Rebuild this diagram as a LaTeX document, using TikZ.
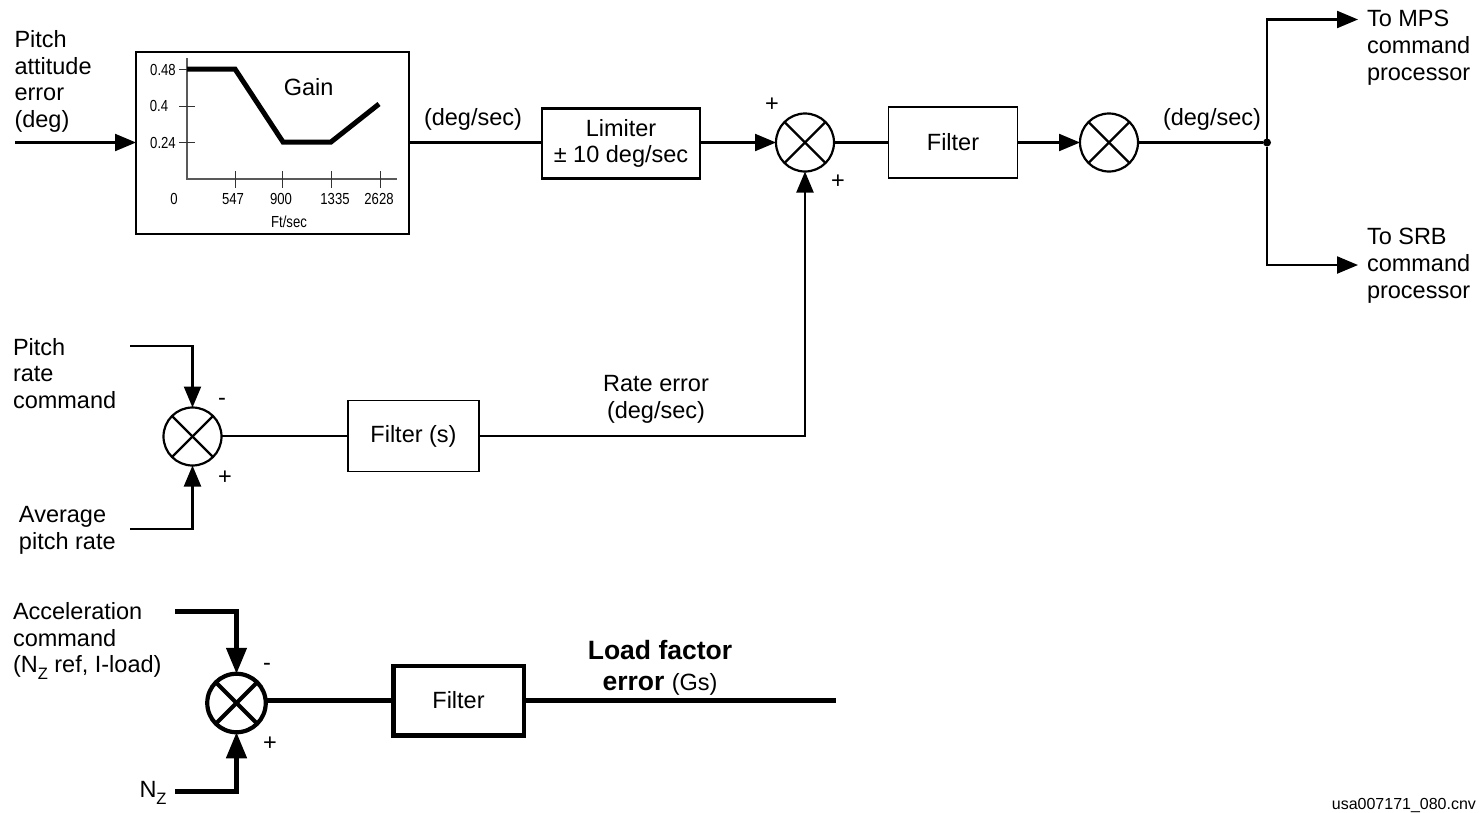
\documentclass[tikz,border=0pt]{standalone}
\usepackage{fontspec}
\usepackage{graphicx}
\setmainfont{Liberation Sans}
\usetikzlibrary{arrows.meta}
\newcommand{\nzlabel}{N\raisebox{-7pt}{\fontsize{16.5}{16.5}\selectfont Z}}
\newcommand{\ticktext}[1]{\scalebox{.82}[1]{#1}}
\tikzset{
    x=1pt,y=-1pt,
    every node/.style={font=\fontsize{23.5}{26.8}\selectfont,inner sep=0pt,outer sep=0pt},
    textblock/.style={anchor=west,align=left},
    midblock/.style={align=center},
    signlabel/.style={font=\fontsize{23.5}{23.5}\selectfont},
    ticklabel/.style={font=\fontsize{16}{16}\selectfont},
    thinline/.style={line width=2.2pt},
    thickline/.style={line width=4.5pt},
    thinarrow/.style={thinline,-{Triangle[length=21pt,width=17pt]}},
    thickarrow/.style={thickline,-{Triangle[length=26pt,width=20pt]}},
    sumnode/.style={circle,draw,line width=#1,
        path picture={
            \draw[line width=#1] (path picture bounding box.north west) -- (path picture bounding box.south east);
            \draw[line width=#1] (path picture bounding box.north east) -- (path picture bounding box.south west);
        }}
}
\begin{document}
\begin{tikzpicture}
        \useasboundingbox (0,0) rectangle (1480,812);
        \node[textblock] (pitcherrlabel) at (14.5,81.5) {Pitch\\attitude\\error\\(deg)};
        \node[draw,line width=1.5pt,minimum width=273pt,minimum height=182pt] (gainbox) at (272.5,143) {};
        \node (gainlabel) at (308.7,87) {Gain};
        \node[draw,midblock,line width=2.5pt,minimum width=158pt,minimum height=70pt] (limiter) at (621,143.5) {Limiter\\± 10 deg/sec};
        \node[sumnode=2.2pt,minimum size=58pt] (sumtop) at (805,142.5) {};
        \node[draw,line width=1.8pt,minimum width=129pt,minimum height=71pt] (filtertop) at (953,142.5) {Filter};
        \node[sumnode=2.2pt,minimum size=58pt] (sumout) at (1109,142.5) {};
        \node[circle,fill=black,minimum size=8pt] (junction) at (1267,142.5) {};
        \node (ratelabel) at (473,119) {(deg/sec)};
        \node (outlabel) at (1212,119) {(deg/sec)};
        \node[signlabel] (plusa) at (772,105) {+};
        \node[signlabel] (plusb) at (838,182) {+};
        \node[textblock] (mpslabel) at (1367,47.5) {To MPS\\command\\processor};
        \node[textblock] (srblabel) at (1367,266) {To SRB\\command\\processor};
        \coordinate (pitchin) at (15,142.5);
        \coordinate (mpsout) at (1358,19.5);
        \coordinate (srbout) at (1358,265);
        \draw[thinarrow] (pitchin) -- (pitchin -| gainbox.west);
        \draw[thinline] (pitchin -| gainbox.east) -- (pitchin -| limiter.west);
        \draw[thinarrow] (pitchin -| limiter.east) -- (sumtop.west);
        \draw[thinline] (sumtop.east) -- (filtertop.west);
        \draw[thinarrow] (filtertop.east) -- (sumout.west);
        \draw[thinline] (sumout.east) -- (junction);
        \draw[thinarrow] (junction) |- (mpsout);
        \draw[thinarrow] (junction) |- (srbout);

        \draw[gray!70!black,line width=1.3pt] (187,58) -- (187,179) -- (397,179);
        \foreach \tx in {235,282,331,380} {
            \draw[black!80,line width=1pt] (\tx,171) -- (\tx,188);
        }
        \foreach \ty in {69,106,142} {
            \draw[black!80,line width=1pt] (179,\ty) -- (195,\ty);
        }
        \draw[line width=5pt] (187,69) -- (235,69) -- (283,142) -- (331,142) -- (379,104);
        \node[ticklabel] (ytopa) at (163,70) {\ticktext{0.48}};
        \node[ticklabel] (ytopb) at (159,106) {\ticktext{0.4}};
        \node[ticklabel] (ytopc) at (163,143) {\ticktext{0.24}};
        \node[ticklabel] (xtopa) at (174,199) {\ticktext{0}};
        \node[ticklabel] (xtopb) at (233,199) {\ticktext{547}};
        \node[ticklabel] (xtopc) at (281,199) {\ticktext{900}};
        \node[ticklabel] (xtopd) at (335,199) {\ticktext{1335}};
        \node[ticklabel] (xtope) at (379,199) {\ticktext{2628}};
        \node[ticklabel] (xunit) at (289,222) {\ticktext{Ft/sec}};

        \node[textblock] (ratecmdlabel) at (13,373.5) {Pitch\\rate\\command};
        \node[textblock] (avgratelabel) at (19,530) {Average\\pitch rate};
        \node[sumnode=2.2pt,minimum size=58pt] (summid) at (192.5,436.5) {};
        \node[draw,line width=1.8pt,minimum width=131pt,minimum height=71pt] (filtermid) at (413.5,436) {Filter (s)};
        \node[midblock] (rateerrlabel) at (656,399.5) {Rate error\\(deg/sec)};
        \node[signlabel] (minusmid) at (222,402) {-};
        \node[signlabel] (plusmid) at (225,478) {+};
        \coordinate (ratecmdin) at (130,346);
        \coordinate (avgratein) at (130,529);
        \coordinate (rateturn) at (805,436);
        \draw[thinarrow] (ratecmdin) -| (summid.north);
        \draw[thinarrow] (avgratein) -| (summid.south);
        \draw[thinline] (summid.east |- filtermid.west) -- (filtermid.west);
        \draw[thinarrow] (filtermid.east) -- (rateturn) -- (sumtop.south);

        \node[textblock] (acclabel) at (13,641) {Acceleration\\command\\(\nzlabel{} ref, I-load)};
        \node[anchor=base west] (nzlabel) at (139.5,797) {\nzlabel};
        \node[sumnode=4.2pt,minimum size=58.5pt] (sumlow) at (236.5,703) {};
        \node[draw,line width=4.5pt,minimum width=130.5pt,minimum height=69.5pt] (filterlow) at (458.5,700.5) {Filter};
        \node[midblock,font=\fontsize{26.5}{31.6}\selectfont] (loadlabel) at (660,668) {\textbf{Load factor}\\\textbf{error} {\fontsize{23.5}{31.6}\selectfont (Gs)}};
        \node[signlabel] (minuslow) at (267,667) {-};
        \node[signlabel] (pluslow) at (270,744) {+};
        \coordinate (accin) at (175,611.5);
        \coordinate (nzin) at (175,791.5);
        \coordinate (loadout) at (836,700.5);
        \draw[thickarrow] (accin) -| (sumlow.north);
        \draw[thickarrow] (nzin) -| (sumlow.south);
        \draw[thickline] (sumlow.east |- filterlow.west) -- (filterlow.west);
        \draw[thickline] (filterlow.east) -- (loadout);

        \node[anchor=east,font=\fontsize{16}{16}\selectfont] (filetag) at (1476,805) {usa007171\_080.cnv};
    \end{tikzpicture}
\end{document}
